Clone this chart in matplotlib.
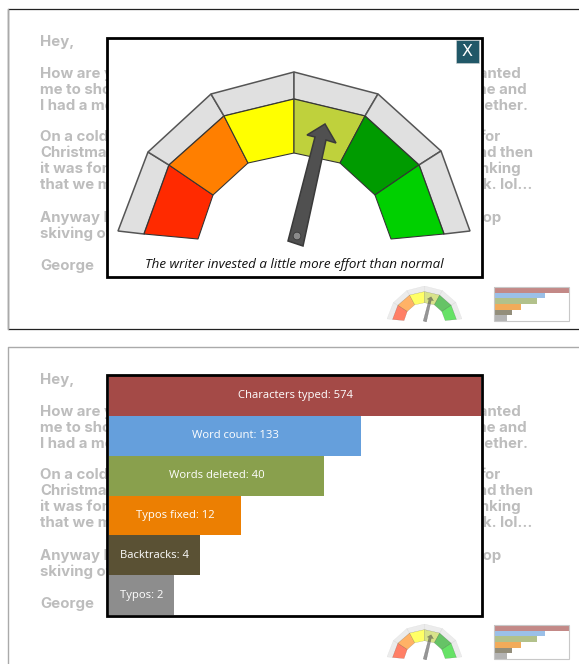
import matplotlib
matplotlib.use("Agg")
import matplotlib.pyplot as plt
from matplotlib.patches import Polygon, Circle

W, H = 579, 664

# background letter, one list per row of the two screenshots
letter_left = ["Hey,", "", "How are you", "me to show", "I had a most", "",
               "On a cold", "Christmas", "it was for", "that we may", "",
               "Anyway I", "skiving off", "", "George"]
letter_right = ["", "", "wanted", "me and", "together.", "",
                "for", "and then", "thinking", "back. lol...", "",
                "shop", "", "", ""]
letter_right_end = [0, 0, 522, 527, 529, 0, 501, 533, 521, 532, 0, 502, 0, 0, 0]

# bars
categories = ["Characters typed", "Word count", "Words deleted", "Typos fixed", "Backtracks", "Typos"]
counts = [574, 133, 40, 12, 4, 2]
bar_lengths = [372, 252, 215, 132, 91, 65]
bar_colors = ["#a44a47", "#659fdc", "#89a04d", "#ec7f02", "#5a5134", "#8d8d8d"]

# gauge outline, left to right
gauge_outer_x = [118, 148, 211, 294, 378, 441, 470]
gauge_outer_y = [231, 152, 94, 72, 94, 151, 231]
gauge_mid_x = [144, 169, 224, 294, 365, 419, 444]
gauge_mid_y = [234, 165, 116, 99, 116, 165, 234]
gauge_inner_x = [198, 213, 248, 294, 340, 375, 391]
gauge_inner_y = [239, 195, 163, 153, 163, 195, 239]
gauge_colors = ["#ff2a00", "#ff7f00", "#ffff00", "#bfd13c", "#009b00", "#00d000"]

needle_x = [288, 315, 307, 325, 336, 326, 303]
needle_y = [241, 137, 135, 124, 143, 140, 246]

caption = "The writer invested a little more effort than normal"


def px_axes(fig, x0, y0, x1, y1, zorder=1):
    ax = fig.add_axes([x0 / W, 1 - y1 / H, (x1 - x0) / W, (y1 - y0) / H], zorder=zorder)
    ax.set_xlim(x0, x1)
    ax.set_ylim(y1, y0)
    ax.axis("off")
    return ax


def draw_gauge(ax, lw=1.0, alpha=1.0, edge="#555555"):
    for i in range(6):
        outer = [(gauge_outer_x[i], gauge_outer_y[i]), (gauge_outer_x[i + 1], gauge_outer_y[i + 1]),
                 (gauge_mid_x[i + 1], gauge_mid_y[i + 1]), (gauge_mid_x[i], gauge_mid_y[i])]
        inner = [(gauge_mid_x[i], gauge_mid_y[i]), (gauge_mid_x[i + 1], gauge_mid_y[i + 1]),
                 (gauge_inner_x[i + 1], gauge_inner_y[i + 1]), (gauge_inner_x[i], gauge_inner_y[i])]
        ax.add_patch(Polygon(outer, fc="#e0e0e0", ec=edge, lw=lw, alpha=alpha))
        ax.add_patch(Polygon(inner, fc=gauge_colors[i], ec="#333333", lw=lw * 0.7, alpha=alpha))
    ax.add_patch(Polygon(list(zip(needle_x, needle_y)), fc="#505050", ec="#3a3a3a", lw=lw, alpha=alpha, zorder=5))


def draw_bars(ax, labels=True, alpha=1.0):
    ypos = range(len(counts))
    ax.barh(list(ypos), bar_lengths, height=1.0, color=bar_colors, alpha=alpha)
    ax.set_xlim(0, 372)
    ax.set_ylim(5.5, -0.5)
    ax.axis("off")
    if labels:
        for i, (cat, n, length) in enumerate(zip(categories, counts, bar_lengths)):
            ax.text(length / 2, i, f"{cat}: {n}", color="white", ha="center", va="center",
                    family="Open Sans", fontsize=8.1)


fig = plt.figure(figsize=(W / 100, H / 100), dpi=100)
bg = fig.add_axes([0, 0, 1, 1], zorder=0)
bg.set_xlim(0, W)
bg.set_ylim(H, 0)
bg.axis("off")

# screenshot frames
bg.plot([579, 8, 8, 579], [9, 9, 329, 329], color="#222222", lw=0.9)
bg.plot([8, 8], [9, 329], color="#aaaaaa", lw=1.0)
bg.plot([8, 8, 579], [664, 347, 347], color="#aaaaaa", lw=1.0)

# letter text, the modal sits on top of most of it
row_steps = [42, 58, 74, 90, 106, 121, 137, 153, 169, 185, 201, 218, 234, 250, 266]
for off in (0, 338):
    for y, a, b, end in zip(row_steps, letter_left, letter_right, letter_right_end):
        bg.text(40, y + off, a, color="#bdbdbd", family="Inter", weight="bold",
                fontsize=10.8, va="center", ha="left")
        bg.text(end, y + off, b, color="#bdbdbd", family="Inter", weight="bold",
                fontsize=10.8, va="center", ha="right")

# top modal
m1 = px_axes(fig, 107, 38, 482, 277, zorder=2)
m1.add_patch(plt.Rectangle((107, 38), 375, 239, fc="white", ec="black", lw=2.0, clip_on=False))
draw_gauge(m1, lw=1.1)
m1.add_patch(Circle((297, 236), 3.8, fc="#8a8a8a", ec="#333333", lw=0.5, zorder=6))
m1.text(294, 264, caption, family="Open Sans", style="italic", fontsize=9.65, ha="center", va="center",
        color="#111111")
m1.add_patch(plt.Rectangle((456, 40), 23, 23, fc="#215868", ec="#d5d5d5", lw=0.4, zorder=6))
m1.text(467.5, 51, "X", color="white", family="DejaVu Sans", fontsize=11.5, ha="center", va="center", zorder=7)

# bottom modal
bg.add_patch(plt.Rectangle((107, 375), 375, 241, fc="white", ec="none", zorder=3))
m2 = px_axes(fig, 109, 376, 481, 615, zorder=2)
draw_bars(m2)
frame = px_axes(fig, 107, 374, 482, 616, zorder=3)
frame.add_patch(plt.Rectangle((107, 375), 375, 241, fc="none", ec="black", lw=2.0, clip_on=False))

# thumbnails
for top in (286, 624):
    th = px_axes(fig, 387, top, 462, top + 36)
    th.set_xlim(118, 470)
    th.set_ylim(246, 72)
    draw_gauge(th, lw=0.2, alpha=0.6, edge="#cccccc")
    bars = px_axes(fig, 494, top + 1, 569, top + 35)
    draw_bars(bars, labels=False, alpha=0.65)
    bars.add_patch(plt.Rectangle((0, -0.5), 372, 6, fc="none", ec="#c8c8c8", lw=0.8, clip_on=False))

fig.savefig("out.png", dpi=100)
